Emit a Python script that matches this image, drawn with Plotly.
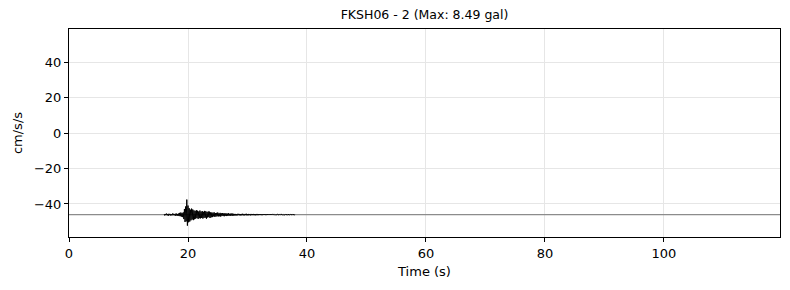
import numpy as np
import plotly.graph_objects as go

title = "FKSH06 - 2 (Max: 8.49 gal)"
baseline = -46.0
t_start = 16.0
dt = 0.1

# acceleration samples (cm/s/s) relative to baseline
acc = [
    0.3, -0.5, 0.4, -0.2, 0.6, -0.4, 0.3, -0.6, 0.5, -0.3, 0.4, -0.5, 0.2, -0.4, 0.6, -0.3, 0.5, -0.4, 0.3, -0.6, 0.7, -0.5, 0.4, -0.7, 0.6,
    -0.8, 1.0, -0.9, 1.2, -1.1, 0.9, -1.4, 1.3,
    -2.5, 3.2, -4.1, 4.6, -3.8, 8.49, -6.2,
    5.1, -4.3, 3.6, -3.9, 2.8, -3.2, 3.4, -2.7, 2.9, -3.1,
    2.4, -2.6, 2.1, -2.3, 2.5, -1.9, 2.2, -2.4, 1.8, -2.0, 2.3, -2.1, 1.7, -1.9, 2.0, -2.2, 1.6, -1.8, 2.1, -1.7, 1.9, -2.3, 1.5, -1.6, 1.8, -1.4, 1.7, -1.9, 1.3, -1.5,
    1.2, -1.4, 1.1, -1.0, 1.3, -1.2, 0.9, -1.1, 1.0, -0.9, 1.2, -1.0, 0.8, -0.9, 1.0, -1.1, 0.8, -0.7, 0.9, -0.8, 0.7, -0.9, 0.8, -0.6, 0.7, -0.8, 0.6, -0.7, 0.8, -0.6, 0.5, -0.7, 0.6, -0.5, 0.7, -0.6, 0.5, -0.6, 0.4, -0.5,
    0.4, -0.5, 0.3, -0.4, 0.5, -0.3, 0.4, -0.4, 0.3, -0.5, 0.4, -0.3, 0.5, -0.4, 0.3, -0.4, 0.4, -0.3, 0.5, -0.4,
    0.3, -0.4, 0.4, -0.3, 0.3, -0.4, 0.4, -0.3, 0.3, -0.3, 0.4, -0.3, 0.3, -0.4, 0.3, -0.3, 0.4, -0.3, 0.3, -0.3,
    0.3, -0.2, 0.3, -0.3, 0.2, -0.3, 0.3, -0.2, 0.3, -0.2, 0.2, -0.3, 0.2, -0.2, 0.3, -0.2, 0.2, -0.2, 0.3, -0.2,
    0.2, -0.2, 0.2, -0.1, 0.2, -0.2, 0.1, -0.2, 0.2, -0.1,
    0.2, -0.1, 0.1, -0.2, 0.1, -0.1, 0.2, -0.1, 0.1, -0.1, 0.1, -0.2, 0.1, -0.1, 0.1, -0.1, 0.1, -0.1, 0.1, -0.1,
    0.1, -0.1, 0.1, -0.1, 0.1, -0.1, 0.1, -0.1, 0.1, -0.1, 0.0,
]

x_range = [0, 119.5]
y_range = [-58.6, 58.6]
x_ticks = [0, 20, 40, 60, 80, 100]
y_ticks = [-40, -20, 0, 20, 40]

t = t_start + dt * np.arange(len(acc))
y = baseline + np.array(acc)

fig = go.Figure()
fig.add_trace(go.Scatter(x=x_range, y=[baseline, baseline], mode="lines",
                         line=dict(color="#8c8c8c", width=1.2), hoverinfo="skip"))
fig.add_trace(go.Scatter(x=t, y=y, mode="lines", line=dict(color="black", width=1.0)))

font = "DejaVu Sans"
fig.update_layout(
    width=790, height=290,
    margin=dict(l=69, r=10, t=29, b=53),
    paper_bgcolor="white", plot_bgcolor="white",
    showlegend=False,
    font=dict(family=font, size=13, color="black"),
    title=dict(text=title, x=0.5, xref="paper", xanchor="center", y=1 - 15 / 290, yanchor="middle",
               font=dict(family=font, size=12.5, color="black")),
)
axis_common = dict(showline=True, linecolor="black", linewidth=1, mirror=True,
                   ticks="outside", ticklen=4, tickwidth=1, tickcolor="black",
                   showgrid=True, gridcolor="#e6e6e6", gridwidth=1, zeroline=False,
                   tickfont=dict(family=font, size=13, color="black"))
fig.update_xaxes(range=x_range, tickvals=x_ticks, title=dict(text="Time (s)", standoff=7,
                 font=dict(family=font, size=13)), **axis_common)
fig.update_yaxes(range=y_range, tickvals=y_ticks, title=dict(text="cm/s/s", standoff=8,
                 font=dict(family=font, size=13)), **axis_common)

fig.write_html("out.html")
